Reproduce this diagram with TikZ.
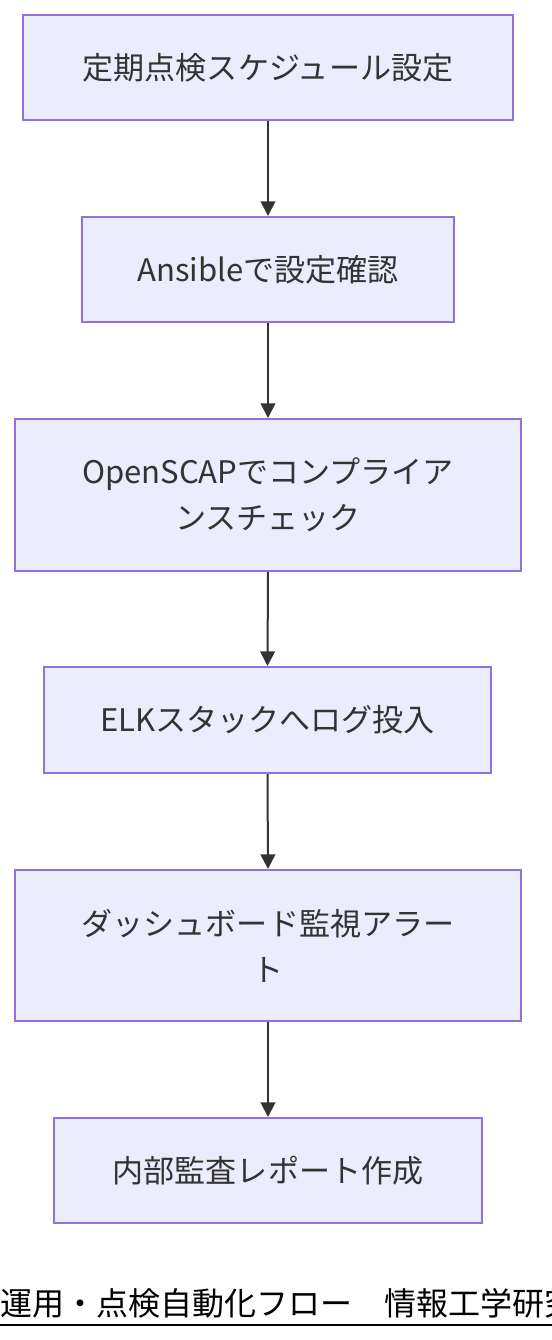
\documentclass[tikz,border=0pt]{standalone}
\usepackage{fontspec}
\setmainfont{Noto Sans CJK JP}
\usetikzlibrary{arrows.meta}
\definecolor{boxfill}{HTML}{ECECFF}
\definecolor{boxline}{HTML}{9370DB}
\definecolor{txt}{HTML}{333333}
\begin{document}
\begin{tikzpicture}[x=0.75pt,y=-0.75pt,
  flowbox/.style={draw=boxline,fill=boxfill,line width=1.5pt,text=txt,
    align=center,font=\fontsize{23.3pt}{34.5pt}\selectfont,inner sep=0pt},
  flowarrow/.style={draw=txt,line width=1.5pt,-{Triangle[length=11pt,width=11pt]}}]
\useasboundingbox (0,0) rectangle (552,1340);
\begin{scope}
\clip (0,0) rectangle (552,1340);
\node[flowbox,minimum width=490*0.75pt,minimum height=105*0.75pt] (n1) at (268,67.5) {定期点検スケジュール設定};
\node[flowbox,minimum width=372*0.75pt,minimum height=105*0.75pt] (n2) at (268,269.5) {Ansibleで設定確認};
\node[flowbox,minimum width=506*0.75pt,minimum height=152*0.75pt] (n3) at (268,495) {OpenSCAPでコンプライア\\ンスチェック};
\node[flowbox,minimum width=447*0.75pt,minimum height=106*0.75pt] (n4) at (267.5,720) {ELKスタックへログ投入};
\node[flowbox,minimum width=506*0.75pt,minimum height=151*0.75pt] (n5) at (268,945.5) {ダッシュボード監視アラー\\ト};
\node[flowbox,minimum width=428*0.75pt,minimum height=105*0.75pt] (n6) at (268,1170.5) {内部監査レポート作成};
\draw[flowarrow] (n1.south) -- (n2.north);
\draw[flowarrow] (n2.south) -- (n3.north);
\draw[flowarrow] (n3.south) -- (n4.north);
\draw[flowarrow] (n4.south) -- (n5.north);
\draw[flowarrow] (n5.south) -- (n6.north);
\node[anchor=base west,inner sep=0pt,font=\fontsize{24pt}{28pt}\selectfont,text=black] (cap) at (0,1315) {運用・点検自動化フロー　情報工学研究};
\coordinate (ul1) at (0,1325);
\coordinate (ul2) at (552,1325);
\draw[black,line width=1.6pt] (ul1) -- (ul2);
\end{scope}
\end{tikzpicture}
\end{document}
